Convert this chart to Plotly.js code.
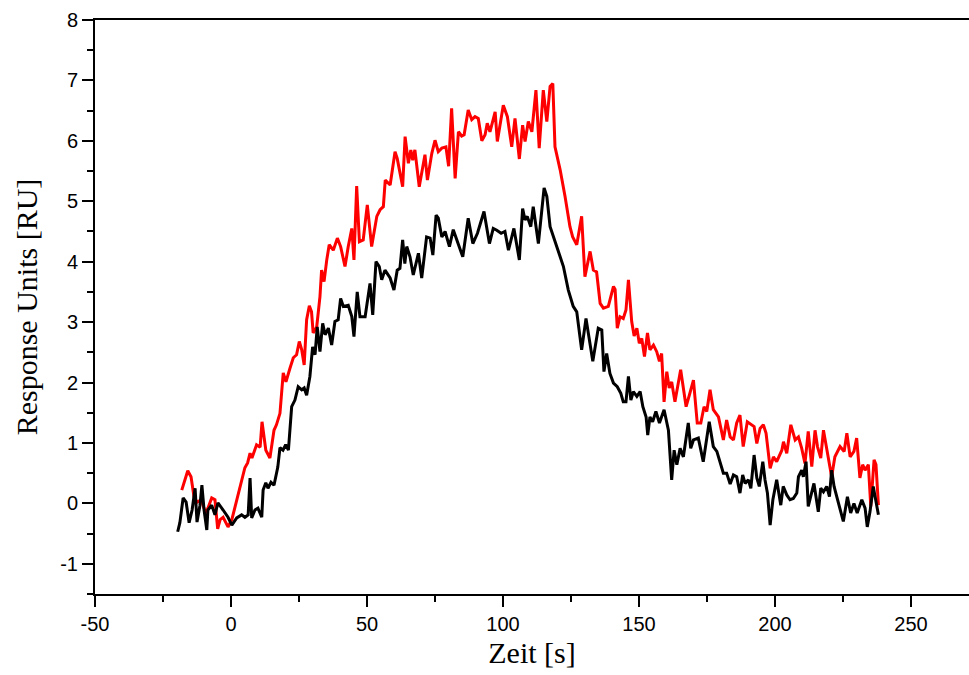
<!DOCTYPE html>
<html>
<head>
<meta charset="utf-8">
<script src="https://cdn.plot.ly/plotly-3.0.1.min.js"></script>
<style>html,body{margin:0;padding:0;background:#fff;}#chart{width:969px;height:675px;}</style>
</head>
<body>
<div id="chart"></div>
<script>
// Black series (time [s], response [RU])
const blackT = [-19.6,-18.8,-17.6,-16.5,-15.4,-14.3,-13.2,-12.5,-11.4,-10.7,-9.9,-8.9,-8.5,-7.1,-5.9,-4.8,-2.9,-1.1,0.3,2.1,3.9,5.1,6.3,7.0,7.6,8.8,9.9,11.3,11.8,12.8,13.6,14.7,15.8,17.2,18.0,19.1,20.1,21.1,22.3,23.5,24.7,26.0,26.9,27.8,29.0,30.0,30.9,31.7,32.7,33.7,34.6,35.8,37.0,38.2,39.4,40.3,41.3,43.1,44.4,45.2,46.4,47.4,49.3,51.1,52.1,53.3,54.5,55.4,56.6,58.5,59.9,61.1,62.1,63.1,63.9,64.6,65.8,67.0,68.9,70.1,71.9,73.2,74.2,75.4,76.2,77.5,78.7,80.3,81.7,83.6,85.2,87.2,88.9,90.6,93.0,95.0,96.4,97.7,99.3,100.7,102.0,104.0,106.0,107.2,108.1,108.9,110.2,111.1,113.0,115.1,116.1,117.3,119.7,122.2,124.0,125.8,127.1,128.9,130.5,133.0,135.0,136.3,137.1,138.1,139.3,140.6,142.0,143.3,144.2,145.2,146.1,147.0,147.9,149.2,150.4,151.4,152.6,153.2,154.0,155.0,156.2,157.5,159.2,160.8,162.0,162.9,163.9,165.1,166.3,168.1,169.0,170.0,171.8,173.6,175.8,177.3,178.6,179.8,181.0,182.2,183.5,184.7,185.9,187.1,188.1,189.0,190.2,191.1,192.3,193.3,194.2,195.5,196.3,197.2,198.2,199.2,200.6,202.1,203.0,204.3,205.5,206.7,208.0,208.6,209.8,210.4,211.4,212.2,213.5,214.3,215.9,216.8,217.8,219.0,220.0,220.8,221.7,222.9,225.1,226.6,227.8,229.0,230.2,231.9,233.1,233.9,234.9,236.1,237.1,238.0];
const blackV = [-0.47,-0.32,0.09,0.02,-0.32,-0.11,0.25,-0.31,-0.03,0.30,-0.11,-0.44,-0.11,-0.03,-0.19,0.01,-0.11,-0.23,-0.36,-0.24,-0.19,-0.23,-0.19,0.42,-0.24,-0.11,-0.08,-0.23,0.22,0.34,0.25,0.35,0.30,0.60,0.92,0.88,0.97,0.88,1.60,1.71,1.93,1.88,1.91,1.79,2.10,2.59,2.46,2.92,2.51,2.98,2.79,2.90,2.62,3.01,3.04,3.39,3.26,3.28,3.09,2.76,3.50,3.09,3.09,3.64,3.12,4.00,3.92,3.70,3.86,3.73,3.53,3.86,3.89,4.36,3.97,4.25,4.08,3.78,4.14,3.73,4.41,4.39,4.11,4.77,4.72,4.41,4.50,4.25,4.53,4.28,4.08,4.72,4.30,4.47,4.83,4.30,4.55,4.52,4.47,4.50,4.19,4.55,4.03,4.88,4.69,4.75,4.58,4.91,4.30,5.22,5.08,4.58,4.25,3.92,3.53,3.26,3.17,2.54,3.06,2.35,2.90,2.87,2.18,2.48,2.15,1.99,1.93,1.82,1.68,1.68,2.10,1.71,1.85,1.77,1.85,1.60,1.43,1.13,1.43,1.35,1.52,1.33,1.55,1.21,0.39,0.88,0.64,0.91,0.77,1.33,0.91,1.05,1.08,0.69,1.35,0.94,0.86,0.69,0.50,0.50,0.32,0.47,0.44,0.17,0.47,0.33,0.39,0.25,0.80,0.42,0.28,0.69,0.39,0.17,-0.36,0.06,0.39,-0.03,0.28,0.14,0.06,0.08,0.17,0.44,0.55,0.44,0.69,-0.05,0.17,0.33,-0.14,0.25,0.19,0.28,0.11,0.55,0.28,0.08,-0.30,0.11,-0.16,0.00,-0.16,0.06,-0.08,-0.39,-0.14,0.28,0.03,-0.19];

// Red series (time [s], response [RU])
const redT = [-18.1,-15.9,-14.7,-13.6,-12.5,-10.8,-10.3,-9.3,-8.5,-7.1,-5.9,-4.9,-4.0,-2.9,-1.1,0.3,5.1,6.1,7.0,7.7,9.4,10.7,11.4,12.8,14.3,15.8,16.7,18.0,19.2,20.2,21.7,22.9,24.1,25.1,26.0,26.9,27.8,28.8,29.6,30.2,31.5,32.7,33.3,34.2,35.2,36.1,37.6,39.1,40.3,41.9,43.1,44.4,45.2,46.2,47.2,48.6,50.1,51.7,53.6,54.8,56.0,56.7,58.5,60.3,61.1,63.1,64.0,65.2,66.1,66.8,67.6,69.2,71.3,72.2,73.8,75.0,76.2,77.5,79.0,80.0,81.1,82.4,83.6,84.8,85.7,87.2,88.5,89.7,90.9,92.2,93.4,94.2,95.2,97.1,97.9,100.1,101.6,103.2,104.4,106.0,107.2,108.1,109.3,110.6,112.1,113.3,114.8,116.1,117.3,118.3,119.1,121.0,122.8,124.6,125.6,127.1,128.9,130.1,132.0,133.2,134.4,135.7,136.9,138.7,140.6,141.2,142.0,143.0,144.2,145.2,146.1,147.3,148.2,149.2,150.1,151.0,152.0,153.1,154.0,155.3,156.5,157.5,158.3,159.2,160.2,161.1,162.0,163.2,165.3,166.3,167.3,168.5,170.0,171.4,172.7,173.9,174.9,176.1,177.3,179.2,181.0,182.2,183.5,184.7,185.9,187.1,188.3,189.8,191.4,192.3,193.3,194.5,195.7,196.7,198.2,199.4,200.6,202.5,203.1,204.3,205.8,207.4,208.6,209.8,211.0,212.2,213.5,214.7,215.6,216.8,217.8,219.2,220.8,222.0,223.9,225.4,226.4,227.6,229.0,230.0,231.2,232.2,233.1,234.3,235.2,236.4,237.1,238.0];
const redV = [0.22,0.54,0.44,0.11,0.02,0.06,-0.03,-0.16,-0.08,0.09,0.06,-0.42,-0.27,-0.23,-0.39,-0.27,0.59,0.67,0.83,0.75,0.97,0.93,1.35,0.88,0.75,1.21,1.30,1.49,2.16,2.01,2.24,2.41,2.46,2.68,2.54,2.29,3.04,3.27,3.17,2.82,2.92,3.42,3.86,3.67,4.03,4.28,4.19,4.39,4.25,3.92,4.25,4.55,4.03,5.25,4.33,4.36,4.94,4.25,4.75,4.86,4.91,5.35,5.27,5.82,5.71,5.24,6.07,5.63,5.85,5.68,5.85,5.24,5.77,5.35,5.79,6.01,5.82,5.88,5.90,5.58,6.54,5.38,6.15,6.08,6.10,6.51,6.35,6.40,6.37,6.00,6.10,6.29,6.15,6.48,5.99,6.59,6.40,5.90,6.37,5.70,6.26,5.99,6.32,6.15,6.84,5.88,6.84,6.32,6.90,6.95,5.90,5.52,5.08,4.58,4.41,4.28,4.75,3.75,4.17,3.86,3.83,3.31,3.23,3.26,3.59,3.54,2.90,3.09,3.06,3.20,3.70,3.01,2.77,2.90,2.65,2.73,2.43,2.82,2.54,2.62,2.51,2.35,2.48,1.68,2.18,1.91,2.01,1.68,2.21,1.93,1.60,1.79,2.04,1.33,1.33,1.60,1.52,1.88,1.55,1.43,1.05,1.38,1.10,1.05,1.33,1.46,0.94,1.35,1.30,1.27,0.99,1.24,1.30,1.16,0.58,0.77,0.69,0.88,1.02,0.83,1.30,1.05,1.10,0.91,0.66,1.19,0.61,1.21,0.94,0.75,1.21,0.88,0.44,0.77,0.94,0.86,1.16,0.77,0.86,1.08,0.42,0.64,0.55,0.64,-0.05,0.72,0.64,-0.03];

// Tick labels (hyphen-minus as in the original)
const xTickVals = [-50, 0, 50, 100, 150, 200, 250];
const xTickText = ['-50', '0', '50', '100', '150', '200', '250'];
const yTickVals = [-1, 0, 1, 2, 3, 4, 5, 6, 7, 8];
const yTickText = ['-1', '0', '1', '2', '3', '4', '5', '6', '7', '8'];

const xTitle = 'Zeit [s]';
const yTitle = 'Response Units [RU]';

const traces = [
  {x: redT, y: redV, type: 'scatter', mode: 'lines', line: {color: '#ff0000', width: 3}, hoverinfo: 'skip'},
  {x: blackT, y: blackV, type: 'scatter', mode: 'lines', line: {color: '#000000', width: 3}, hoverinfo: 'skip'}
];

const tickFont = {family: 'Liberation Sans, Arial, sans-serif', size: 20, color: '#000'};
const titleFont = {family: 'Liberation Serif, Times New Roman, serif', size: 30, color: '#000'};

const layout = {
  width: 969, height: 675,
  margin: {l: 95, r: 0, t: 20, b: 81, pad: 0},
  paper_bgcolor: '#fff', plot_bgcolor: '#fff',
  showlegend: false,
  xaxis: {
    range: [-50, 271.3], tickmode: 'array', tickvals: xTickVals, ticktext: xTickText,
    showgrid: false, zeroline: false,
    showline: true, linecolor: '#000', linewidth: 2, mirror: true,
    ticks: 'outside', ticklen: 11, tickwidth: 2, tickcolor: '#000',
    minor: {dtick: 25, tick0: 0, ticks: 'outside', ticklen: 6, tickwidth: 2, tickcolor: '#000', showgrid: false},
    tickfont: tickFont,
    title: {text: xTitle, font: titleFont, standoff: 8}
  },
  yaxis: {
    range: [-1.5, 8], tickmode: 'array', tickvals: yTickVals, ticktext: yTickText,
    showgrid: false, zeroline: false,
    showline: true, linecolor: '#000', linewidth: 2, mirror: false,
    ticks: 'outside', ticklen: 11, tickwidth: 2, tickcolor: '#000',
    minor: {dtick: 0.5, tick0: 0, ticks: 'outside', ticklen: 6, tickwidth: 2, tickcolor: '#000', showgrid: false},
    tickfont: tickFont,
    title: {text: yTitle, font: titleFont, standoff: 14}
  }
};

Plotly.newPlot('chart', traces, layout, {displayModeBar: false, staticPlot: true});
</script>
</body>
</html>
